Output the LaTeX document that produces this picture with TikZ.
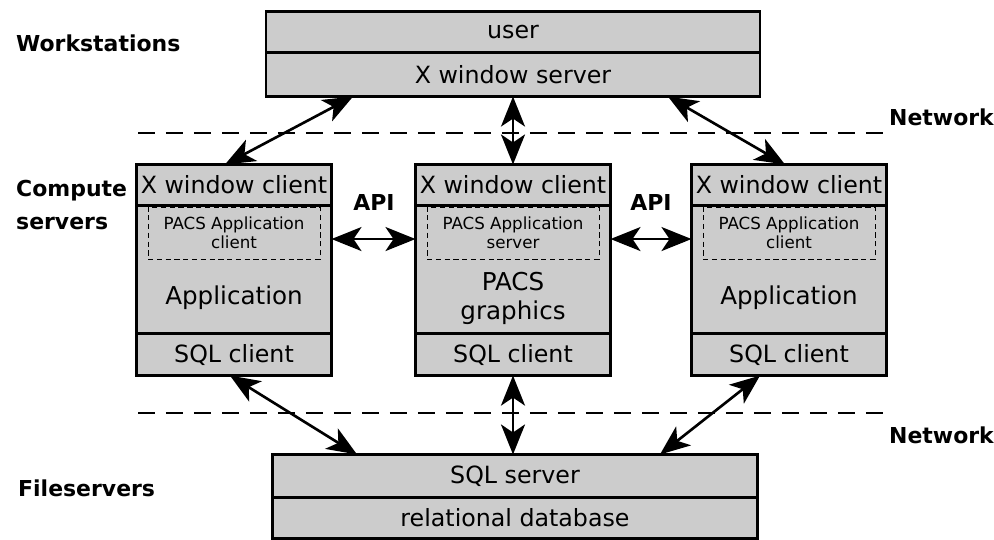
\documentclass[tikz,border=0pt]{standalone}
\usepackage{fontspec}
\setmainfont{DejaVu Sans}
\usetikzlibrary{positioning,calc,arrows.meta}

\tikzset{
    row/.style={draw, line width=0.6pt, fill=black!20, inner sep=0pt, font=\fontsize{13.5}{15}\selectfont},
    frame/.style={line width=1.5pt},
    inner/.style={draw, densely dashed, line width=0.5pt, minimum width=3.44cm, minimum height=1.04cm, align=center, inner sep=0pt, font=\fontsize{9.5}{10.5}\selectfont},
    side/.style={anchor=west, align=left, font=\fontsize{12.5}{19}\selectfont\bfseries},
    net/.style={dash pattern=on 0.34cm off 0.22cm, line width=1.1pt},
    link/.style={{Stealth[length=6mm,width=4.8mm,inset=1.6mm]}-{Stealth[length=6mm,width=4.8mm,inset=1.6mm]}, line width=1.5pt}
}

\begin{document}
\begin{tikzpicture}[x=0.02cm, y=-0.02cm]
    \useasboundingbox (0,0) rectangle (994,540);

    % Workstation
    \node[row, minimum width=9.86cm, minimum height=0.8cm] (user) at (513,32) {user};
    \node[row, minimum width=9.86cm, minimum height=0.86cm, below=0pt of user] (xserver) {X window server};
    \draw[frame] (user.north west) rectangle (xserver.south east);

    % Compute servers
    \foreach \n/\x/\role/\main in {l/234/client/Application, m/513/server/{PACS\\graphics}, r/789/client/Application} {
        \node[row, minimum width=3.88cm, minimum height=0.8cm] (x\n) at (\x,185) {X window client};
        \node[row, minimum width=3.88cm, minimum height=2.54cm, below=0pt of x\n] (a\n) {};
        \node[row, minimum width=3.88cm, minimum height=0.82cm, below=0pt of a\n] (s\n) {SQL client};
        \node[inner] (p\n) at (\x,233) {PACS Application\\\role};
        \node[align=center, font=\fontsize{14}{16.5}\selectfont] (m\n) at (\x,298) {\main};
        \draw[frame] (x\n.north west) rectangle (s\n.south east);
    }

    % Fileserver
    \node[row, minimum width=9.68cm, minimum height=0.84cm] (sqlsrv) at (515,476) {SQL server};
    \node[row, minimum width=9.68cm, minimum height=0.8cm, below=0pt of sqlsrv] (db) {relational database};
    \draw[frame] (sqlsrv.north west) rectangle (db.south east);

    % Networks
    \draw[net] (138,133) -- (885,133);
    \draw[net] (138,413) -- (885,413);
    \node[side] (net1) at (883,117) {Network};
    \node[side] (net2) at (883,435) {Network};

    % Tier labels
    \node[side] (ws) at (10,43) {Workstations};
    \node[side] (cs) at (10,205) {Compute\\servers};
    \node[side] (fs) at (12,488) {Fileservers};

    % X connections
    \draw[link] ([xshift=-3.2cm]xserver.south) -- ([xshift=-0.18cm]xl.north);
    \draw[link] (xserver.south) -- (xm.north);
    \draw[link] ([xshift=3.1cm]xserver.south) -- ([xshift=-0.08cm]xr.north);

    % API
    \node[font=\fontsize{12.5}{15}\selectfont\bfseries] (api1) at (374,202) {API};
    \node[font=\fontsize{12.5}{15}\selectfont\bfseries] (api2) at (651,202) {API};
    \draw[link] ([yshift=0.61cm]al.east) -- ([yshift=0.61cm]am.west);
    \draw[link] ([yshift=0.61cm]am.east) -- ([yshift=0.61cm]ar.west);

    % SQL connections
    \draw[link] ([xshift=-0.08cm]sl.south) -- ([xshift=-3.16cm]sqlsrv.north);
    \draw[link] (sm.south) -- (sm.south |- sqlsrv.north);
    \draw[link] ([xshift=-0.58cm]sr.south) -- ([xshift=2.9cm]sqlsrv.north);
\end{tikzpicture}
\end{document}
